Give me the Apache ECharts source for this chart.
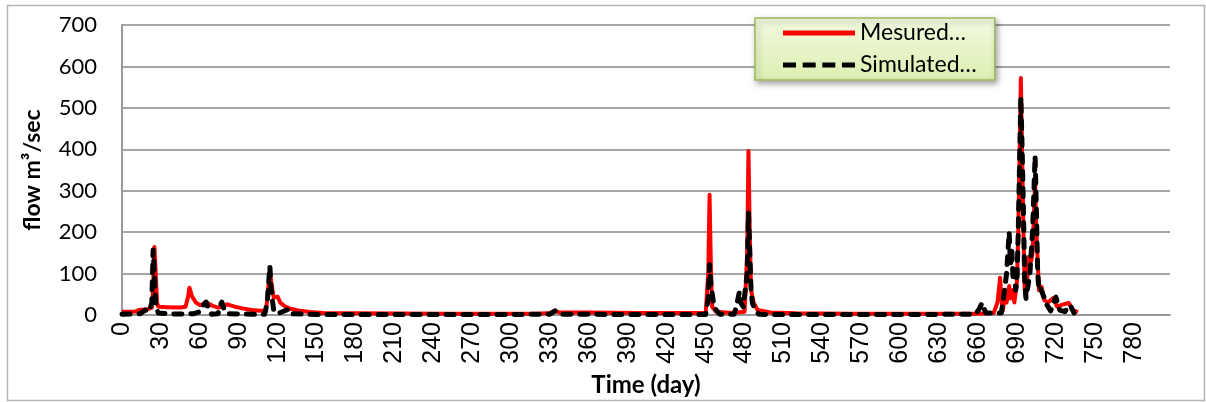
<!DOCTYPE html>
<html>
<head>
<meta charset="utf-8">
<script src="https://cdn.jsdelivr.net/npm/echarts@6/dist/echarts.min.js"></script>
<style>
html,body{margin:0;padding:0;background:#fff;}
#chart{width:1206px;height:402px;}
</style>
</head>
<body>
<div id="chart"></div>
<script>
// Measured flow (red) : day / value
var measuredDays = [0,10,13,20,23,24,25,26,27,28,35,45,49,51,52,54,57,60,62,64,66,70,74,78,81,83,87,93,100,106,111,112,114,115,117,120,122,126,130,137,145,155,180,250,320,330,334,337,360,400,440,450,452,453,454,455,458,470,480,482,483,484,485,487,490,500,520,560,620,660,672,675,677,678,679,681,682,684,685,687,688,690,691,693,695,696,697,699,701,702,704,705,707,709,711,714,718,721,725,730,733,737];
var measuredVals = [8,8,12,14,18,60,164,100,30,20,19,18,20,45,66,45,30,24,25,31,28,22,18,20,26,24,20,16,12,10,10,40,110,80,42,44,30,20,15,10,7,5,4,3,3,5,10,6,6,5,5,5,100,290,120,20,8,5,8,150,396,200,60,30,12,6,4,3,3,3,5,30,90,40,10,50,30,70,40,60,30,80,200,572,200,60,40,140,130,150,318,200,60,68,36,30,41,20,25,29,12,7];

// Simulated flow (black dashed) : day / value
var simulatedDays = [0,14,18,21,23,24,25,26,28,35,48,55,60,63,65,67,69,74,76,77,79,82,100,110,112,114,115,117,120,127,129,131,150,300,330,334,337,400,450,452,453,454,456,458,461,472,474,476,477,479,482,483,484,485,486,488,491,500,600,658,661,663,666,678,680,682,684,685,686,687,688,689,690,691,693,694,695,696,697,698,700,702,704,705,706,707,708,710,713,716,720,723,727,731,734];
var simulatedVals = [2,3,12,8,30,157,100,20,5,3,2,3,8,25,31,10,2,3,25,31,10,3,2,2,30,118,60,10,3,12,15,3,1,1,2,10,2,1,1,40,121,77,30,12,2,2,25,56,30,20,100,246,150,60,29,12,2,1,1,2,15,29,5,5,50,100,200,120,160,90,110,60,80,200,526,400,250,80,40,60,100,200,384,250,100,60,65,50,25,10,43,12,8,24,5];

var seriesNames = ['Mesured\u2026', 'Simulated\u2026'];
var xTitle = 'Time (day)';
var yTitle = 'flow m\u00b3/sec';

function pairs(xs, ys){ return xs.map(function(x,i){ return [x, ys[i]]; }); }

var solidIcon = 'path://M0,0H72V5H0Z';
var dashIcon = 'path://M0,0H13V5H0Z M19.7,0H32.7V5H19.7Z M39.3,0H52.3V5H39.3Z M59,0H72V5H59Z';

var chart = echarts.init(document.getElementById('chart'), null, {renderer:'canvas'});
chart.setOption({
  animation: false,
  backgroundColor: '#ffffff',
  graphic: [{
    type: 'rect', left: 5, top: 3, z: -10,
    shape: {width: 1197, height: 395},
    style: {fill: 'none', stroke: '#b4b4b4', lineWidth: 1.5}
  }],
  grid: {left: 122, top: 25, right: 36, bottom: 87, containLabel: false},
  legend: {
    orient: 'vertical', left: 755, top: 18,
    itemWidth: 72, itemHeight: 5, itemGap: 8,
    padding: [3, 18, 3, 28],
    backgroundColor: new echarts.graphic.LinearGradient(0,0,0,1,[{offset:0,color:'#f2fae0'},{offset:1,color:'#dcefb2'}]),
    borderColor: '#9bbb59', borderWidth: 1.5,
    shadowColor: 'rgba(0,0,0,0.35)', shadowBlur: 6, shadowOffsetX: 2, shadowOffsetY: 3,
    textStyle: {fontFamily: 'Lato', fontSize: 23, color: '#000', lineHeight: 24},
    data: [{name: seriesNames[0], icon: solidIcon}, {name: seriesNames[1], icon: dashIcon}]
  },
  xAxis: {
    type: 'value', min: 0, max: 808, interval: 30,
    name: xTitle, nameLocation: 'middle', nameGap: 58,
    nameTextStyle: {fontFamily: 'Lato', fontWeight: 'bold', fontSize: 24, color: '#000'},
    axisLine: {show: true, lineStyle: {color: '#999999', width: 2}},
    axisTick: {show: false},
    splitLine: {show: false},
    axisLabel: {rotate: 90, margin: 7, fontFamily: 'Liberation Sans', fontSize: 25, color: '#000', showMaxLabel: false}
  },
  yAxis: {
    type: 'value', min: 0, max: 700, interval: 100,
    name: yTitle, nameLocation: 'middle', nameGap: 78,
    nameTextStyle: {fontFamily: 'Lato', fontWeight: 'bold', fontSize: 23, color: '#000'},
    axisLine: {show: true, lineStyle: {color: '#999999', width: 2}},
    axisTick: {show: false},
    splitLine: {show: true, lineStyle: {color: '#a6a6a6', width: 2}},
    axisLabel: {margin: 25, fontFamily: 'Lato', fontSize: 22, color: '#000'}
  },
  series: [{
    name: seriesNames[0], type: 'line', symbol: 'none', z: 2,
    data: pairs(measuredDays, measuredVals),
    lineStyle: {color: '#ff0000', width: 4, join: 'round'},
    itemStyle: {color: '#ff0000'}
  }, {
    name: seriesNames[1], type: 'line', symbol: 'none', z: 3,
    data: pairs(simulatedDays, simulatedVals),
    lineStyle: {color: '#000000', width: 5, type: [8, 9], cap: 'round', join: 'round'},
    itemStyle: {color: '#000000'}
  }]
});
</script>
</body>
</html>
